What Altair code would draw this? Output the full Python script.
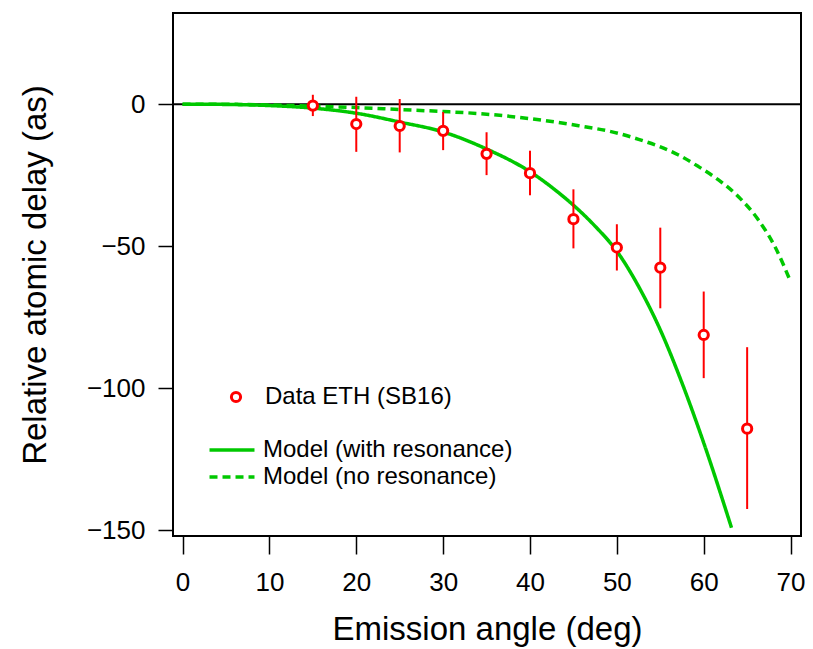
import altair as alt
import pandas as pd

# ---- data ----
data_angle = [15, 20, 25, 30, 35, 40, 45, 50, 55, 60, 65]
data_delay = [-0.5, -7.0, -7.7, -9.4, -17.5, -24.3, -40.5, -50.5, -57.6, -81.3, -114.3]
data_low = [-4.2, -16.8, -17.0, -16.2, -25.0, -32.1, -50.8, -58.6, -71.9, -96.5, -142.6]
data_high = [3.3, 2.6, 1.8, -2.8, -9.9, -16.4, -30.0, -42.3, -43.5, -66.0, -85.6]

res_angle = [0, 5, 10, 15, 20, 25, 30, 35, 40, 43.3, 45, 47.5, 50, 52.5, 55, 57.5, 60, 63.2]
res_delay = [0, -0.1, -0.5, -1.4, -3.2, -6.3, -9.8, -15.8, -23.8, -31.2, -35.6, -43.0,
             -51.8, -64.2, -79.5, -98.2, -119.3, -149.2]

nores_angle = [0, 5, 10, 15, 20, 25, 30, 34, 40, 45.6, 50.2, 52.5, 54.8, 57.1, 59.4,
               61.7, 64.0, 66.3, 68.2, 70]
nores_delay = [0, -0.05, -0.3, -0.7, -1.2, -1.9, -2.6, -3.3, -5.1, -7.6, -10.3, -12.4,
               -14.8, -17.9, -22.0, -26.7, -32.6, -40.8, -50.2, -62.5]

DATA_LABEL = "Data ETH (SB16)"
RES_LABEL = "Model (with resonance)"
NORES_LABEL = "Model (no resonance)"

x_ticks = [0, 10, 20, 30, 40, 50, 60, 70]
y_ticks = [-150, -100, -50, 0]
zero_line = [0]

pts = pd.DataFrame({"angle": data_angle, "delay": data_delay,
                    "low": data_low, "high": data_high, "series": DATA_LABEL})
models = pd.concat([
    pd.DataFrame({"angle": res_angle, "delay": res_delay, "model": RES_LABEL, "order": 0}),
    pd.DataFrame({"angle": nores_angle, "delay": nores_delay, "model": NORES_LABEL, "order": 1}),
], ignore_index=True)

FONT = "Liberation Sans"
GREEN = "#00C800"
RED = "#FF0000"

xscale = alt.Scale(domain=[-1.1, 71.2], nice=False, zero=False)
yscale = alt.Scale(domain=[-152.1, 32.1], nice=False, zero=False)

xaxis = alt.Axis(values=x_ticks, title="Emission angle (deg)", format="d",
                 tickSize=18, labelPadding=15, titlePadding=18)
yaxis = alt.Axis(values=y_ticks, title="Relative atomic delay (as)", format="d",
                 tickSize=15, labelPadding=13, titlePadding=34)

xenc = alt.X("angle:Q", scale=xscale, axis=xaxis)
yenc = alt.Y("delay:Q", scale=yscale, axis=yaxis)

zero = alt.Chart(pd.DataFrame({"delay": zero_line})).mark_rule(color="black", strokeWidth=2).encode(
    y=yenc
)

lines = alt.Chart(models).mark_line(strokeWidth=3.5, interpolate="monotone").encode(
    x=xenc, y=yenc,
    color=alt.Color("model:N", scale=alt.Scale(domain=[RES_LABEL, NORES_LABEL], range=[GREEN, GREEN]),
                    legend=None),
    strokeDash=alt.StrokeDash("model:N",
                              scale=alt.Scale(domain=[RES_LABEL, NORES_LABEL], range=[[1, 0], [8, 5]]),
                              legend=alt.Legend(title=None, orient="none", direction="vertical",
                                                labelFont=FONT, labelFontSize=24, labelColor="black",
                                                labelLimit=0, symbolType="M-2,0H2", symbolSize=506,
                                                symbolStrokeWidth=3.5, symbolStrokeColor=GREEN,
                                                labelOffset=18, rowPadding=2, padding=0,
                                                legendX=46, legendY=424)),
    order="order:Q",
)

errbars = alt.Chart(pts).mark_rule(color=RED, strokeWidth=2).encode(
    x=xenc, y=alt.Y("low:Q", scale=yscale, axis=yaxis), y2="high:Q"
)

points = alt.Chart(pts).mark_point(shape="circle", size=85, strokeWidth=3, filled=False,
                                   fill="white", fillOpacity=1, opacity=1).encode(
    x=xenc,
    y=yenc,
    stroke=alt.Stroke("series:N", scale=alt.Scale(domain=[DATA_LABEL], range=[RED]),
                      legend=alt.Legend(title=None, orient="none", labelFont=FONT,
                                        labelFontSize=24, labelColor="black", labelLimit=0,
                                        symbolType="circle", symbolSize=85,
                                        symbolStrokeWidth=3, symbolFillColor="white",
                                        labelOffset=17, padding=0,
                                        legendX=51, legendY=372)),
)

chart = alt.layer(zero, lines, errbars, points).resolve_scale(
    color="independent", stroke="independent"
).properties(
    width=628, height=523,
    autosize=alt.AutoSizeParams(type="none"),
    padding={"left": 165, "top": 5, "right": 4, "bottom": 112},
    background="white",
).configure_view(
    stroke="black", strokeWidth=2
).configure_axis(
    domain=False, grid=False, tickColor="black", tickWidth=1.5,
    labelFont=FONT, labelFontSize=26, labelColor="black",
    titleFont=FONT, titleFontSize=33, titleFontWeight="normal", titleColor="black",
)

chart.save("out.html", embed_options={"renderer": "svg", "actions": False})
